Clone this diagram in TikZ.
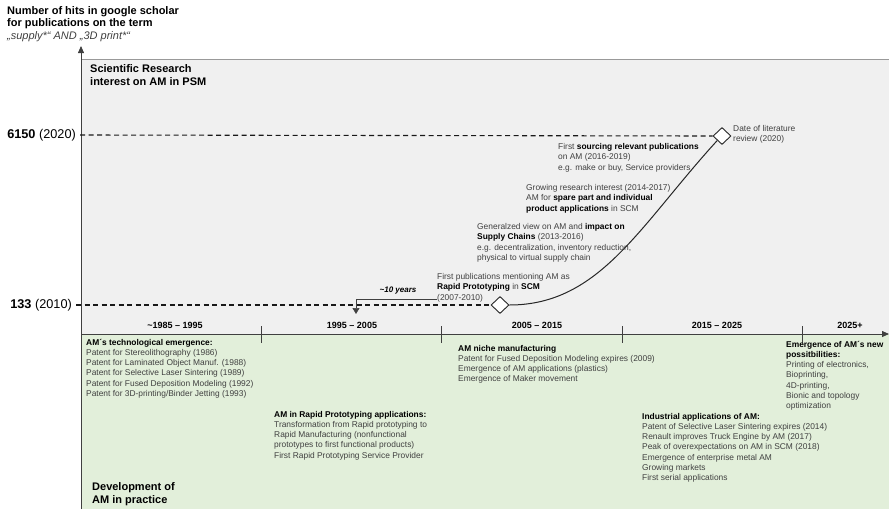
\documentclass[tikz,border=0pt]{standalone}
\usepackage{fontspec}
\setmainfont{Liberation Sans}
\usetikzlibrary{arrows.meta,shapes.geometric}

\definecolor{psmgray}{HTML}{F0F0F0}
\definecolor{practgreen}{HTML}{E2EFDA}
\definecolor{notegray}{HTML}{404040}
\newcommand{\blk}[1]{\textcolor{black}{\bfseries #1}}

\begin{document}
\begin{tikzpicture}[x=1pt,y=-1pt]

    \tikzstyle{every node}=[inner sep=0pt,anchor=north west,align=left]
    \tikzstyle{note}=[font=\fontsize{8.4}{10.4}\selectfont,text=notegray]
    \tikzstyle{event}=[font=\fontsize{8.4}{10.2}\selectfont,text=notegray]
    \tikzstyle{big}=[font=\fontsize{11}{13.5}\selectfont\bfseries]
    \tikzstyle{period}=[anchor=center,font=\fontsize{9}{10}\selectfont\bfseries]
    \tikzstyle{level}=[dash pattern=on 5pt off 3.5pt,line width=1.1pt,black!90]
    \tikzstyle{milestone}=[diamond,draw=black!85,fill=white,line width=0.9pt,anchor=center,minimum width=18pt,minimum height=17pt]
    \tikzstyle{axis}=[black!75,line width=0.8pt]

    \useasboundingbox (0,0) rectangle (889,509);
    \fill[psmgray] (81,59) rectangle (889,334);
    \fill[practgreen] (81,334) rectangle (889,509);
    \draw[black!40] (81,59) -- (889,59);

    % axes
    \coordinate (yfoot) at (81,509);
    \coordinate (yhead) at (81,46);
    \coordinate (xfoot) at (81,334);
    \coordinate (xhead) at (889,334);
    \draw[axis,-{Triangle[length=7pt,width=6pt]}] (yfoot) -- (yhead);
    \draw[axis,-{Triangle[length=7pt,width=6pt]}] (xfoot) -- (xhead);
    \foreach \x in {261,441,622,802}
        \draw[axis,line width=0.6pt] (\x,326) -- (\x,343);

    \foreach \x/\t [count=\i] in {175/{\textasciitilde1985 -- 1995},352/{1995 -- 2005},537/{2005 -- 2015},717/{2015 -- 2025},850/{2025+}}
        \node[period] (p\i) at (\x,325) {\t};

    \node[font=\fontsize{11}{12.5}\selectfont] (hits) at (7,6) {\textbf{Number of hits in google scholar}\\ \textbf{for publications on the term}\\ {\itshape\color{notegray}„supply*“ AND „3D print*“}};
    \node[big] (sci) at (90,64) {Scientific Research\\ interest on AM in PSM};
    \node[big] (dev) at (92,482) {Development of\\ AM in practice};

    % research curve
    \node[anchor=east,font=\fontsize{12.7}{14}\selectfont] (l6150) at (76,135) {\textbf{6150} (2020)};
    \node[anchor=east,font=\fontsize{12.7}{14}\selectfont] (l133) at (72,305) {\textbf{133} (2010)};
    \node[milestone] (d2010) at (500,305) {};
    \node[milestone] (d2020) at (722,136) {};
    \draw[level] ([xshift=4pt]l6150.east) -- (d2020.west);
    \draw[level] ([xshift=4pt]l133.east) -- (d2010.west);
    \draw[black!85,line width=1pt] (d2010.east) .. controls (600,305) and (640,225) .. (d2020.south west);

    \node[note] (n2007) at (437,273) {First publications mentioning AM as\\ \blk{Rapid Prototyping} in \blk{SCM}\\ (2007-2010)};
    \node[note] (n2013) at (477,223) {Generalzed view on AM and \blk{impact on}\\ \blk{Supply Chains} (2013-2016)\\ e.g. decentralization, inventory reduction,\\ physical to virtual supply chain};
    \node[note] (n2014) at (526,184) {Growing research interest (2014-2017)\\ AM for \blk{spare part and individual}\\ \blk{product applications} in SCM};
    \node[note] (n2016) at (558,143) {First \blk{sourcing relevant publications}\\ on AM (2016-2019)\\ e.g. make or buy, Service providers,};
    \node[note] (nlit) at (733,125) {Date of literature\\ review (2020)};

    \coordinate (gap) at (356,314);
    \node[anchor=center,font=\fontsize{8}{10}\selectfont\bfseries\itshape] (tenyrs) at (398,291) {\textasciitilde10 years};
    \draw[axis,line width=0.6pt,-{Triangle[length=6pt,width=7pt]}] ([yshift=3pt]n2007.south west) -| (gap);

    % practice
    \node[event] (g1985) at (86,339) {\blk{AM´s technological emergence:}\\ Patent for Stereolithography (1986)\\ Patent for Laminated Object Manuf. (1988)\\ Patent for Selective Laser Sintering (1989)\\ Patent for Fused Deposition Modeling (1992)\\ Patent for 3D-printing/Binder Jetting (1993)};
    \node[event] (g1995) at (274,411) {\blk{AM in Rapid Prototyping applications:}\\ Transformation from Rapid prototyping to\\ Rapid Manufacturing (nonfunctional\\ prototypes to first functional products)\\ First Rapid Prototyping Service Provider};
    \node[event] (g2005) at (458,345) {\blk{AM niche manufacturing}\\ Patent for Fused Deposition Modeling expires (2009)\\ Emergence of AM applications (plastics)\\ Emergence of Maker movement};
    \node[event] (g2015) at (642,413) {\blk{Industrial applications of AM:}\\ Patent of Selective Laser Sintering expires (2014)\\ Renault improves Truck Engine by AM (2017)\\ Peak of overexpectations on AM in SCM (2018)\\ Emergence of enterprise metal AM\\ Growing markets\\ First serial applications};
    \node[event] (g2025) at (786,341) {\blk{Emergence of AM´s new}\\ \blk{possitbilities:}\\ Printing of electronics,\\ Bioprinting,\\ 4D-printing,\\ Bionic and topology\\ optimization};

\end{tikzpicture}
\end{document}
